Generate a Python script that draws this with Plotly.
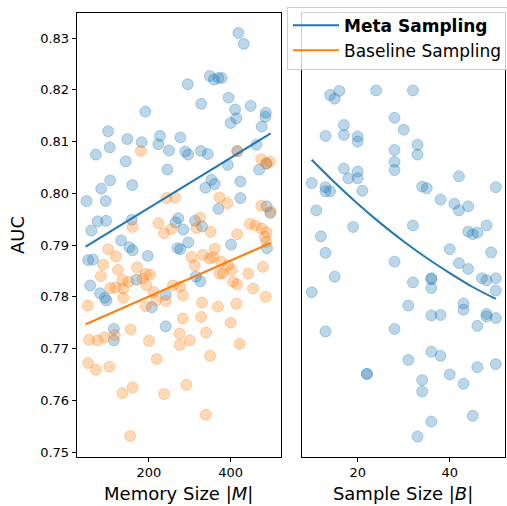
import plotly.graph_objects as go

# ---------------- data ----------------
# Left panel: AUC vs memory size |M|
meta_mem_M = [419, 432, 295, 349, 359, 370, 378, 328, 395, 449, 411, 486, 485, 414, 400, 476,
              191, 100, 70, 104, 147, 182, 227, 223, 249, 277, 289, 296, 327, 344, 463, 416,
              393, 470, 488, 143, 245, 105, 83, 159, 47, 94, 353, 361, 338, 424, 424, 370,
              488, 497, 74, 95, 59, 158, 272, 265, 284, 313, 330, 132, 152, 160, 197, 51,
              63, 270, 277, 296, 401, 489, 56, 80, 92, 96, 169, 207, 241, 315, 326, 114,
              114, 241]
meta_mem_auc = [0.8310, 0.8289, 0.8211, 0.8227, 0.8220, 0.8223, 0.8223, 0.8173, 0.8185, 0.8169,
                0.8162, 0.8156, 0.8148, 0.8145, 0.8136, 0.8129, 0.8158, 0.8120, 0.8075, 0.8089,
                0.8105, 0.8099, 0.8111, 0.8095, 0.8083, 0.8108, 0.8081, 0.8075, 0.8082, 0.8076,
                0.8094, 0.8082, 0.8055, 0.8046, 0.8058, 0.8062, 0.8046, 0.8025, 0.8009, 0.8016,
                0.7985, 0.7985, 0.8026, 0.8018, 0.8011, 0.8023, 0.7991, 0.7970, 0.7975, 0.7962,
                0.7946, 0.7947, 0.7928, 0.7949, 0.7952, 0.7944, 0.7930, 0.7947, 0.7936, 0.7909,
                0.7896, 0.7890, 0.7879, 0.7871, 0.7872, 0.7894, 0.7892, 0.7905, 0.7901, 0.7894,
                0.7822, 0.7807, 0.7798, 0.7793, 0.7833, 0.7780, 0.7804, 0.7839, 0.7830, 0.7738,
                0.7716, 0.7743]

base_mem_M = [180, 417, 475, 496, 487, 243, 264, 373, 392, 475, 498, 160, 223, 237, 255, 325,
              316, 351, 447, 461, 476, 488, 416, 484, 487, 100, 119, 88, 82, 124, 171, 135,
              150, 105, 118, 137, 184, 193, 203, 192, 137, 212, 217, 192, 50, 241, 259, 276,
              283, 155, 53, 74, 91, 116, 200, 51, 70, 103, 219, 135, 160, 237, 292, 154,
              339, 330, 369, 414, 283, 328, 400, 340, 275, 275, 300, 422, 350, 361, 304, 332,
              349, 357, 312, 377, 394, 402, 373, 381, 443, 479, 406, 416, 455, 486]
base_mem_auc = [0.8082, 0.8081, 0.8066, 0.8061, 0.8057, 0.7991, 0.7992, 0.7992, 0.7981, 0.7976,
                0.7965, 0.7935, 0.7942, 0.7923, 0.7931, 0.7953, 0.7933, 0.7926, 0.7941, 0.7938,
                0.7932, 0.7925, 0.7921, 0.7916, 0.7906, 0.7892, 0.7878, 0.7862, 0.7840, 0.7852,
                0.7857, 0.7832, 0.7829, 0.7817, 0.7818, 0.7816, 0.7835, 0.7823, 0.7843, 0.7844,
                0.7798, 0.7809, 0.7793, 0.7782, 0.7783, 0.7792, 0.7822, 0.7820, 0.7803, 0.7737,
                0.7717, 0.7716, 0.7722, 0.7726, 0.7715, 0.7672, 0.7659, 0.7665, 0.7680, 0.7614,
                0.7625, 0.7612, 0.7630, 0.7531, 0.7572, 0.7789, 0.7781, 0.7787, 0.7758, 0.7761,
                0.7750, 0.7731, 0.7729, 0.7707, 0.7716, 0.7709, 0.7686, 0.7893, 0.7877, 0.7881,
                0.7874, 0.7877, 0.7861, 0.7868, 0.7861, 0.7852, 0.7845, 0.7845, 0.7845, 0.7858,
                0.7829, 0.7824, 0.7816, 0.7800]

# fitted trend lines (end points)
meta_mem_fit_M = [45, 498]
meta_mem_fit_auc = [0.7897, 0.8116]
base_mem_fit_M = [45, 498]
base_mem_fit_auc = [0.7747, 0.7904]

# Right panel: AUC vs sample size |B|
meta_batch_B = [14, 15, 16, 24, 32, 28, 30, 13, 17, 17, 20, 20, 33, 33, 28, 28, 28, 17, 20, 20,
                18, 21, 10, 13, 13, 14, 34, 35, 42, 50, 38, 41, 42, 44, 11, 19, 32, 44, 45, 46,
                48, 12, 13, 15, 10, 28, 40, 49, 42, 44, 47, 48, 50, 50, 32, 36, 36, 36, 31, 36,
                38, 43, 43, 48, 48, 50, 46, 13, 28, 31, 36, 38, 40, 43, 46, 50, 34, 34, 36, 33,
                45, 22, 22]
meta_batch_auc = [0.8190, 0.8183, 0.8198, 0.8199, 0.8199, 0.8146, 0.8123, 0.8111, 0.8132, 0.8113,
                  0.8110, 0.8100, 0.8094, 0.8075, 0.8084, 0.8061, 0.8045, 0.8048, 0.8042, 0.8029,
                  0.8029, 0.8005, 0.8020, 0.8012, 0.8004, 0.8004, 0.8013, 0.8010, 0.8033, 0.8012,
                  0.7988, 0.7980, 0.7967, 0.7975, 0.7967, 0.7935, 0.7938, 0.7926, 0.7921, 0.7924,
                  0.7938, 0.7917, 0.7885, 0.7839, 0.7809, 0.7868, 0.7892, 0.7886, 0.7865, 0.7854,
                  0.7836, 0.7832, 0.7836, 0.7812, 0.7828, 0.7836, 0.7834, 0.7817, 0.7783, 0.7764,
                  0.7765, 0.7787, 0.7775, 0.7767, 0.7762, 0.7759, 0.7744, 0.7733, 0.7738, 0.7678,
                  0.7694, 0.7686, 0.7650, 0.7632, 0.7664, 0.7670, 0.7639, 0.7617, 0.7559, 0.7530,
                  0.7570, 0.7651, 0.7651]

# fitted curve
meta_batch_fit_B = [10, 15, 20, 25, 30, 35, 40, 45, 50]
meta_batch_fit_auc = [0.8065, 0.8021, 0.7980, 0.7942, 0.7907, 0.7875, 0.7846, 0.7819, 0.7796]

mem_ticks = [200, 400]
batch_ticks = [20, 40]
auc_ticks = [0.75, 0.76, 0.77, 0.78, 0.79, 0.80, 0.81, 0.82, 0.83]

# ---------------- styling ----------------
BLUE = "#1f77b4"
ORANGE = "#ff7f0e"
BLUE_A = "rgba(31,119,180,0.3)"
ORANGE_A = "rgba(255,127,14,0.3)"
FONT = "DejaVu Sans"
W, H = 507, 506


def marker(c):
    return dict(size=11, color=c, line=dict(color=c, width=1))


fig = go.Figure()
fig.add_trace(go.Scatter(x=meta_mem_M, y=meta_mem_auc, mode="markers", marker=marker(BLUE_A),
                         xaxis="x", yaxis="y", showlegend=False, hoverinfo="skip"))
fig.add_trace(go.Scatter(x=base_mem_M, y=base_mem_auc, mode="markers", marker=marker(ORANGE_A),
                         xaxis="x", yaxis="y", showlegend=False, hoverinfo="skip"))
fig.add_trace(go.Scatter(x=meta_mem_fit_M, y=meta_mem_fit_auc, mode="lines",
                         line=dict(color=BLUE, width=2), xaxis="x", yaxis="y",
                         name="<b>Meta Sampling</b>", legendrank=1))
fig.add_trace(go.Scatter(x=base_mem_fit_M, y=base_mem_fit_auc, mode="lines",
                         line=dict(color=ORANGE, width=2), xaxis="x", yaxis="y",
                         name="Baseline Sampling", legendrank=2))
fig.add_trace(go.Scatter(x=meta_batch_B, y=meta_batch_auc, mode="markers", marker=marker(BLUE_A),
                         xaxis="x2", yaxis="y2", showlegend=False, hoverinfo="skip"))
fig.add_trace(go.Scatter(x=meta_batch_fit_B, y=meta_batch_fit_auc, mode="lines",
                         line=dict(color=BLUE, width=2, shape="spline"), xaxis="x2", yaxis="y2",
                         showlegend=False))

axis_common = dict(showline=True, mirror=True, linecolor="black", linewidth=1,
                   ticks="outside", ticklen=4, tickwidth=1, tickcolor="black",
                   showgrid=False, zeroline=False,
                   tickfont=dict(family=FONT, size=13, color="black"))

y_dom = [1 - 456.7 / H, 1 - 13.3 / H]
y_rng = [0.7491, 0.8348]

fig.update_layout(
    width=W, height=H,
    margin=dict(l=0, r=0, t=0, b=0, autoexpand=False),
    paper_bgcolor="white", plot_bgcolor="white",
    font=dict(family=FONT, color="black"),
    xaxis=dict(domain=[76.7 / W, 280.7 / W], range=[23, 522.6], tickvals=mem_ticks,
               title=dict(text="Memory Size |<i>M</i>|", font=dict(size=18), standoff=8),
               anchor="y", **axis_common),
    yaxis=dict(domain=y_dom, range=y_rng, tickvals=auc_ticks, tickformat=".2f",
               title=dict(text="AUC", font=dict(size=18), standoff=10),
               anchor="x", **axis_common),
    xaxis2=dict(domain=[301.7 / W, 504.5 / W], range=[7.83, 51.9], tickvals=batch_ticks,
                title=dict(text="Sample Size |<i>B</i>|", font=dict(size=18), standoff=8),
                anchor="y2", **axis_common),
    yaxis2=dict(domain=y_dom, range=y_rng, anchor="x2", showline=True, mirror=True,
                linecolor="black", linewidth=1, ticks="", showticklabels=False,
                showgrid=False, zeroline=False),
    legend=dict(x=287 / W, y=1 - 6.7 / H, xanchor="left", yanchor="top",
                bgcolor="rgba(255,255,255,0.8)", bordercolor="#cccccc", borderwidth=1,
                font=dict(family=FONT, size=17, color="black"), itemwidth=46,
                tracegroupgap=0),
)

fig.write_html("out.html", config={"displayModeBar": False},
               post_script="document.body.style.margin='0';document.body.style.overflow='hidden';")
